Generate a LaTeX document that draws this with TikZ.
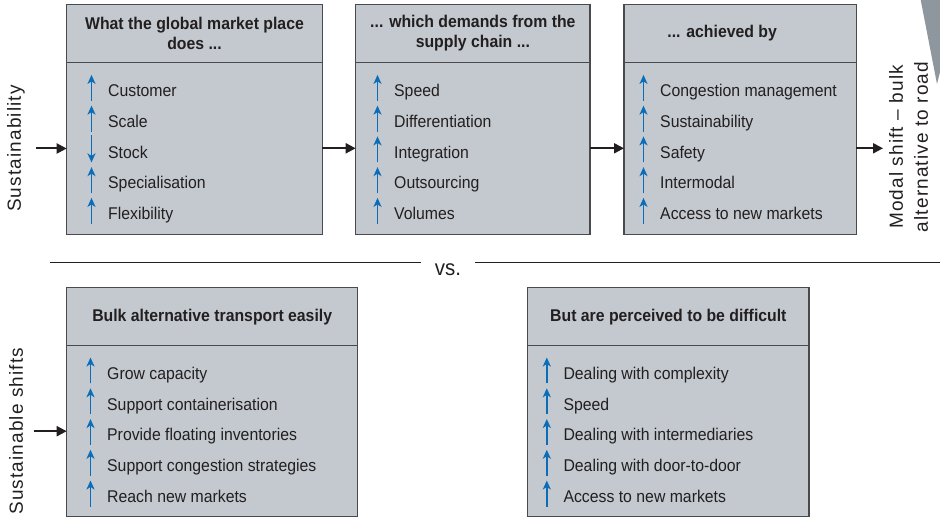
\documentclass[tikz,border=0pt]{standalone}
\usepackage{fontspec}
\setsansfont{Liberation Sans}[FakeStretch=0.93]
\newfontfamily\sidefont{Liberation Sans}[LetterSpace=6]
\usetikzlibrary{arrows.meta,positioning}

\definecolor{boxgrey}{HTML}{C3C9CE}
\definecolor{edgegrey}{HTML}{4A4A4C}
\definecolor{inkdark}{HTML}{231F20}
\definecolor{risingblue}{HTML}{0B6DB7}
\definecolor{cornergrey}{HTML}{8F979E}

\begin{document}
\begin{tikzpicture}[
  x=1pt, y=-1pt, color=inkdark,
  font=\sffamily\fontsize{17}{20}\selectfont,
  header/.style={draw=edgegrey, fill=boxgrey, line width=1.3pt, outer sep=0pt, inner sep=0pt,
    align=center, minimum height=57.6pt, font=\sffamily\bfseries\fontsize{17}{20}\selectfont},
  body/.style={draw=edgegrey, fill=boxgrey, line width=1.3pt, outer sep=0pt, inner sep=0pt, minimum height=172pt},
  item/.style={anchor=west, inner sep=0pt, text height=12pt, text depth=4pt},
  icon/.style={draw=risingblue, fill=risingblue, line width=1.9pt, -{Stealth[length=9pt,width=8pt,inset=2.5pt]}},
  rise/.style={item, append after command={([xshift=-16.5pt]\tikzlastnode.south west)
    edge[icon] ([xshift=-16.5pt,yshift=26pt]\tikzlastnode.south west)}},
  fall/.style={item, append after command={([xshift=-16.5pt,yshift=27pt]\tikzlastnode.south west)
    edge[icon] ([xshift=-16.5pt]\tikzlastnode.south west)}},
  flow/.style={draw=inkdark, line width=2pt, -{Triangle[length=10pt,width=10pt]}},
  side/.style={rotate=90, align=center, inner sep=0pt, font=\sidefont\fontsize{19}{25}\selectfont},
  rule/.style={draw=inkdark, line width=1.3pt}]

  \useasboundingbox (0,0) rectangle (940,518);
  \fill[cornergrey] (920.7,0) -- (940,0) -- (940,72) -- (937,84) -- cycle;

  % Upper row: three boxes
  \node[header, anchor=north west, minimum width=255.6pt] (head1) at (66.7,4.7)
    {What the global market place\\does ...};
  \node[body, below=0pt of head1, minimum width=255.6pt] (body1) {};
  \node[header, anchor=north west, minimum width=234.3pt] (head2) at (355.7,4.7)
    {... which demands from the\\supply chain ...};
  \node[body, below=0pt of head2, minimum width=234.3pt] (body2) {};
  \node[header, anchor=north west, minimum width=232.3pt] (head3) at (624,4.7)
    {... achieved by\hspace*{36pt}};
  \node[body, below=0pt of head3, minimum width=232.3pt] (body3) {};

  \node[rise] (customer) at ([xshift=41.3pt, yshift=-30.4pt]body1.north west) {Customer};
  \node[rise] (scale) at ([yshift=-30.75pt]customer.west) {Scale};
  \node[fall] (stock) at ([yshift=-30.75pt]scale.west) {Stock};
  \node[rise] (specialisation) at ([yshift=-30.75pt]stock.west) {Specialisation};
  \node[rise] (flexibility) at ([yshift=-30.75pt]specialisation.west) {Flexibility};

  \node[rise] (speed) at ([xshift=38.3pt, yshift=-30.4pt]body2.north west) {Speed};
  \node[rise] (differentiation) at ([yshift=-30.75pt]speed.west) {Differentiation};
  \node[rise] (integration) at ([yshift=-30.75pt]differentiation.west) {Integration};
  \node[rise] (outsourcing) at ([yshift=-30.75pt]integration.west) {Outsourcing};
  \node[rise] (volumes) at ([yshift=-30.75pt]outsourcing.west) {Volumes};

  \node[rise] (congestion) at ([xshift=36pt, yshift=-30.4pt]body3.north west) {Congestion management};
  \node[rise] (sustainability) at ([yshift=-30.75pt]congestion.west) {Sustainability};
  \node[rise] (safety) at ([yshift=-30.75pt]sustainability.west) {Safety};
  \node[rise] (intermodal) at ([yshift=-30.75pt]safety.west) {Intermodal};
  \node[rise] (access) at ([yshift=-30.75pt]intermodal.west) {Access to new markets};

  % Side labels and the flow between the boxes
  \node[side, outer sep=11pt] (sust) at (16,148.5) {Sustainability};
  \node[side, outer sep=6pt] (modal) at (908.5,147) {Modal shift – bulk\\alternative to road};
  \draw[flow] (sust.south) -- (sust.south -| body1.west);
  \draw[flow] (body1.east) -- (body2.west);
  \draw[flow] (body2.east) -- (body3.west);
  \draw[flow] (body3.east) -- (body3.east -| modal.north);

  % Separator
  \node[inner xsep=14pt, font=\sffamily\fontsize{22}{24}\selectfont] (vs) at (448,270) {vs.};
  \coordinate (rulestart) at (50,262.3);
  \coordinate (ruleend) at (940,262.3);
  \draw[rule] (rulestart) -- (rulestart -| vs.west);
  \draw[rule] (ruleend -| vs.east) -- (ruleend);

  % Lower row: two boxes
  \node[header, anchor=north west, minimum width=291pt, minimum height=58pt] (head4) at (66.7,287.7)
    {Bulk alternative transport easily};
  \node[body, below=0pt of head4, minimum width=291pt, minimum height=171pt] (body4) {};
  \node[header, anchor=north west, minimum width=281.3pt, minimum height=58pt] (head5) at (527.7,287.7)
    {But are perceived to be difficult};
  \node[body, below=0pt of head5, minimum width=281.3pt, minimum height=171pt] (body5) {};

  \node[rise] (capacity) at ([xshift=40.3pt, yshift=-29.6pt]body4.north west) {Grow capacity};
  \node[rise] (containerisation) at ([yshift=-30.75pt]capacity.west) {Support containerisation};
  \node[rise] (inventories) at ([yshift=-30.75pt]containerisation.west) {Provide floating inventories};
  \node[rise] (strategies) at ([yshift=-30.75pt]inventories.west) {Support congestion strategies};
  \node[rise] (reach) at ([yshift=-30.75pt]strategies.west) {Reach new markets};

  \node[rise] (complexity) at ([xshift=35.6pt, yshift=-29.6pt]body5.north west) {Dealing with complexity};
  \node[rise] (speedtoo) at ([yshift=-30.75pt]complexity.west) {Speed};
  \node[rise] (intermediaries) at ([yshift=-30.75pt]speedtoo.west) {Dealing with intermediaries};
  \node[rise] (doortodoor) at ([yshift=-30.75pt]intermediaries.west) {Dealing with door-to-door};
  \node[rise] (accesstoo) at ([yshift=-30.75pt]doortodoor.west) {Access to new markets};

  \node[side, outer sep=11pt] (shifts) at (16,431.2) {Sustainable shifts};
  \draw[flow] (shifts.south) -- (shifts.south -| body4.west);

\end{tikzpicture}
\end{document}
